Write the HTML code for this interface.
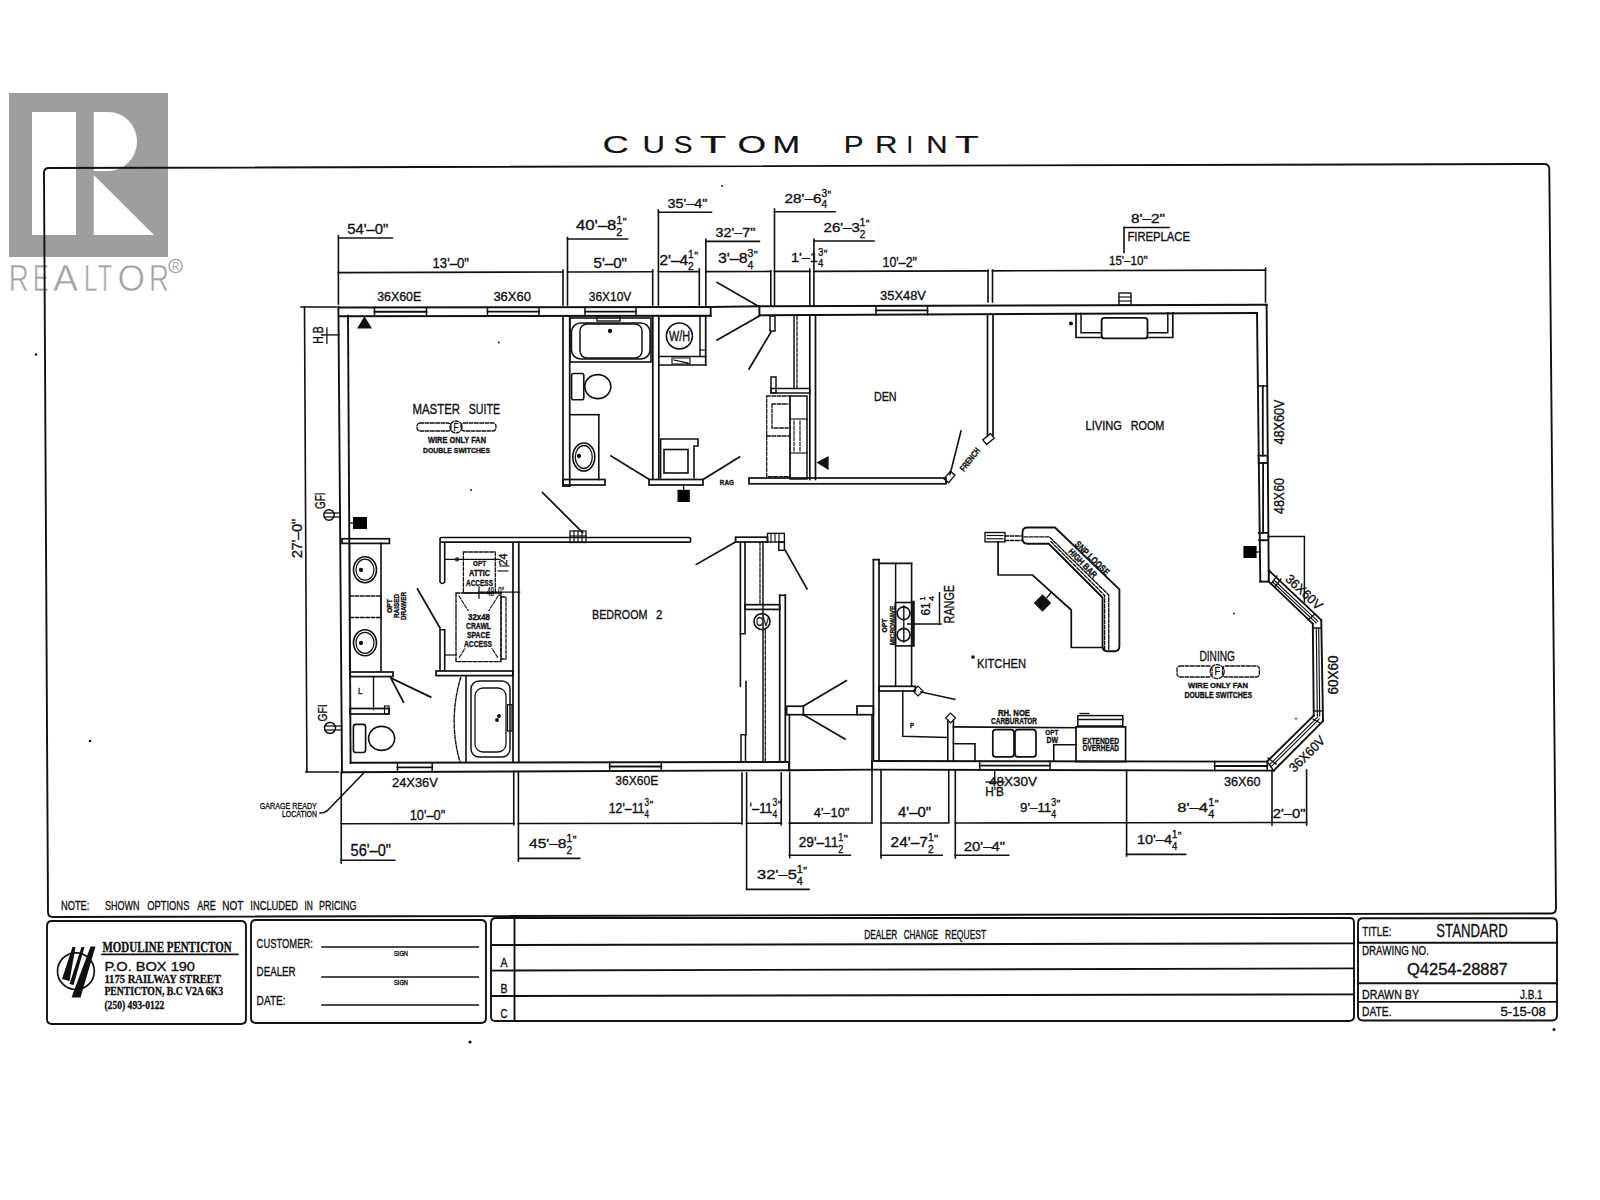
<!DOCTYPE html>
<html><head><meta charset="utf-8"><title>Custom Print Floor Plan</title>
<style>
html,body{margin:0;padding:0;background:#fff;}
body{width:1600px;height:1200px;overflow:hidden;}
svg{display:block;}
text{font-family:"Liberation Sans", sans-serif;fill:#111;stroke:#111;stroke-width:0.35px;}
</style></head><body>
<svg width="1600" height="1200" viewBox="0 0 1600 1200">
<rect x="0" y="0" width="1600" height="1200" fill="#fff"/>
<g stroke="none">
<rect x="9" y="93" width="159" height="164" fill="#9e9e9e" stroke="none"/>
<rect x="32" y="112" width="44" height="123" fill="#fff" stroke="none"/>
<path d="M93.75 112 H108.5 A28.5 29.5 0 0 1 108.5 171 H93.75 Z" fill="#fff"/>
<path d="M93.75 175 V235 H154 Z" fill="#fff"/>
</g>
<text x="8.75" y="291.25" font-size="36.34" textLength="20" lengthAdjust="spacingAndGlyphs" style="fill:#a2a2a2;stroke:#fff;stroke-width:0.6px;paint-order:normal">R</text>
<text x="33" y="291.25" font-size="36.34" textLength="15.75" lengthAdjust="spacingAndGlyphs" style="fill:#a2a2a2;stroke:#fff;stroke-width:0.6px;paint-order:normal">E</text>
<text x="53" y="291.25" font-size="36.34" textLength="25" lengthAdjust="spacingAndGlyphs" style="fill:#a2a2a2;stroke:#fff;stroke-width:0.6px;paint-order:normal">A</text>
<text x="84" y="291.25" font-size="36.34" textLength="13.5" lengthAdjust="spacingAndGlyphs" style="fill:#a2a2a2;stroke:#fff;stroke-width:0.6px;paint-order:normal">L</text>
<text x="98" y="291.25" font-size="36.34" textLength="14" lengthAdjust="spacingAndGlyphs" style="fill:#a2a2a2;stroke:#fff;stroke-width:0.6px;paint-order:normal">T</text>
<text x="117.5" y="291.25" font-size="36.34" textLength="27.5" lengthAdjust="spacingAndGlyphs" style="fill:#a2a2a2;stroke:#fff;stroke-width:0.6px;paint-order:normal">O</text>
<text x="149" y="291.25" font-size="36.34" textLength="20" lengthAdjust="spacingAndGlyphs" style="fill:#a2a2a2;stroke:#fff;stroke-width:0.6px;paint-order:normal">R</text>
<circle cx="175.6" cy="266" r="6.6" fill="none" stroke="#a4a4a4" stroke-width="1.4"/>
<text x="171.9" y="269.8" font-size="10" style="fill:#a4a4a4;stroke:none">R</text>
<g fill="none" stroke="#111" stroke-width="1.9" stroke-linecap="square">
<text transform="translate(602.5 152.5) scale(1.54 1)" x="-0" y="0" font-size="23.6" style="stroke:#111;stroke-width:0.2px">C</text>
<text transform="translate(642.5 152.5) scale(1.32 1)" x="-0" y="0" font-size="23.6" style="stroke:#111;stroke-width:0.2px">U</text>
<text transform="translate(673.75 152.5) scale(1.19 1)" x="-0" y="0" font-size="23.6" style="stroke:#111;stroke-width:0.2px">S</text>
<text transform="translate(700 152.5) scale(1.82 1)" x="-0" y="0" font-size="23.6" style="stroke:#111;stroke-width:0.2px">T</text>
<text transform="translate(737.5 152.5) scale(1.56 1)" x="-0" y="0" font-size="23.6" style="stroke:#111;stroke-width:0.2px">O</text>
<text transform="translate(772.5 152.5) scale(1.4 1)" x="-0" y="0" font-size="23.6" style="stroke:#111;stroke-width:0.2px">M</text>
<text transform="translate(843.75 152.5) scale(1.26 1)" x="-0" y="0" font-size="23.6" style="stroke:#111;stroke-width:0.2px">P</text>
<text transform="translate(875 152.5) scale(1.32 1)" x="-0" y="0" font-size="23.6" style="stroke:#111;stroke-width:0.2px">R</text>
<text transform="translate(906.5 152.5) scale(1 1)" x="-0" y="0" font-size="23.6" style="stroke:#111;stroke-width:0.2px">I</text>
<text transform="translate(926.25 152.5) scale(1.25 1)" x="-0" y="0" font-size="23.6" style="stroke:#111;stroke-width:0.2px">N</text>
<text transform="translate(955 152.5) scale(1.65 1)" x="-0" y="0" font-size="23.6" style="stroke:#111;stroke-width:0.2px">T</text>
<path d="M44 173 Q44 168 49 168 L1544 164 Q1549 164 1549.3 169 L1556 908 Q1556 913.5 1551 913.5 L53 917 Q48 917 48 912 Z"/>
<path d="M52 921 H241 Q246 921 246 926 V1019 Q246 1024 241 1024 H52 Q47 1024 47 1019 V926 Q47 921 52 921 Z"/>
<path d="M256 920 H481 Q486 920 486 925 V1018 Q486 1023 481 1023 H256 Q251 1023 251 1018 V925 Q251 920 256 920 Z"/>
<path d="M496 918 H1349 Q1354 917.5 1354 922.5 V1016 Q1354 1021 1349 1021 H496 Q491 1021.5 491 1016.5 V923 Q491 918 496 918 Z"/>
<path d="M491 945 L1354 943.4"/>
<path d="M491 970.6 L1354 968.4"/>
<path d="M491 996 L1354 994.4"/>
<path d="M514.5 918 L514.5 1021"/>
<path d="M1363 918.3 H1552 Q1557 918.3 1557 923.3 V1015.5 Q1557 1020.5 1552 1020.5 H1363 Q1358 1020.5 1358 1015.5 V923.3 Q1358 918.3 1363 918.3 Z"/>
<path d="M1358 942.7 L1557 942.7"/>
<path d="M1358 983.3 L1557 983.3"/>
<path d="M1358 1001.9 L1557 1001.9"/>
<text x="61" y="910" font-size="13.08" textLength="28.4" lengthAdjust="spacingAndGlyphs">NOTE:</text>
<text x="105" y="910" font-size="13.08" textLength="34.4" lengthAdjust="spacingAndGlyphs">SHOWN</text>
<text x="147.2" y="910" font-size="13.08" textLength="42.2" lengthAdjust="spacingAndGlyphs">OPTIONS</text>
<text x="197.2" y="910" font-size="13.08" textLength="18.7" lengthAdjust="spacingAndGlyphs">ARE</text>
<text x="222.2" y="910" font-size="13.08" textLength="21.2" lengthAdjust="spacingAndGlyphs">NOT</text>
<text x="250.3" y="910" font-size="13.08" textLength="47.8" lengthAdjust="spacingAndGlyphs">INCLUDED</text>
<text x="304.4" y="910" font-size="13.08" textLength="8.4" lengthAdjust="spacingAndGlyphs">IN</text>
<text x="319" y="910" font-size="13.08" textLength="37.6" lengthAdjust="spacingAndGlyphs">PRICING</text>
<circle cx="75.9" cy="971.2" r="18.4" stroke-width="1.72"/>
<path d="M72.5 947 L75.5 947 L69.5 981 L62 979 Z M81.5 947 L84.5 947 L73.5 985 L69.5 984 Z M90.5 946.5 L95.5 946.5 L80.5 997.5 L71.5 997.5 Z" fill="#111" stroke="none"/>
<text x="102.5" y="951.9" font-size="14.35" textLength="129.1" lengthAdjust="spacingAndGlyphs" font-weight="bold" style="font-family:'Liberation Serif', serif">MODULINE PENTICTON</text>
<path d="M102 954.4 L237.8 954.4" stroke-width="1.72"/>
<text x="104.4" y="970.6" font-size="12.65" textLength="90.6" lengthAdjust="spacingAndGlyphs">P.O. BOX 190</text>
<text x="104.4" y="982.5" font-size="13.36" textLength="116.6" lengthAdjust="spacingAndGlyphs" font-weight="bold" style="font-family:'Liberation Serif', serif">1175 RAILWAY STREET</text>
<text x="104.4" y="995" font-size="11.91" textLength="118.6" lengthAdjust="spacingAndGlyphs" font-weight="bold" style="font-family:'Liberation Serif', serif">PENTICTON, B.C  V2A 6K3</text>
<text x="104.4" y="1009" font-size="13.28" textLength="60" lengthAdjust="spacingAndGlyphs" font-weight="bold" style="font-family:'Liberation Serif', serif">(250) 493-0122</text>
<text x="256.6" y="948" font-size="13.44" textLength="56.2" lengthAdjust="spacingAndGlyphs">CUSTOMER:</text>
<path d="M322 947 L478.4 947" stroke-width="1.49"/>
<text x="256.6" y="976" font-size="13.23" textLength="39" lengthAdjust="spacingAndGlyphs">DEALER</text>
<path d="M322 976.9 L478.4 976.9" stroke-width="1.49"/>
<text x="256.6" y="1005" font-size="12.72" textLength="29" lengthAdjust="spacingAndGlyphs">DATE:</text>
<path d="M322 1005 L478.4 1005" stroke-width="1.49"/>
<text x="394" y="955.6" font-size="6.69" textLength="14" lengthAdjust="spacingAndGlyphs">SIGN</text>
<text x="394" y="984.6" font-size="6.69" textLength="14" lengthAdjust="spacingAndGlyphs">SIGN</text>
<text x="864.3" y="939.25" font-size="12.57" textLength="33" lengthAdjust="spacingAndGlyphs">DEALER</text>
<text x="903.7" y="939.25" font-size="12.57" textLength="34.5" lengthAdjust="spacingAndGlyphs">CHANGE</text>
<text x="945" y="939.25" font-size="12.57" textLength="41.25" lengthAdjust="spacingAndGlyphs">REQUEST</text>
<text x="500.5" y="967" font-size="11.99" textLength="7" lengthAdjust="spacingAndGlyphs">A</text>
<text x="500.5" y="992.5" font-size="12.35" textLength="7" lengthAdjust="spacingAndGlyphs">B</text>
<text x="500.5" y="1018" font-size="12.5" textLength="7" lengthAdjust="spacingAndGlyphs">C</text>
<text x="1362.2" y="936" font-size="13.08" textLength="29.3" lengthAdjust="spacingAndGlyphs">TITLE:</text>
<text x="1436.3" y="936.9" font-size="17.51" textLength="71.5" lengthAdjust="spacingAndGlyphs">STANDARD</text>
<text x="1362" y="954.75" font-size="12.72" textLength="66.9" lengthAdjust="spacingAndGlyphs">DRAWING NO.</text>
<text x="1407" y="974.9" font-size="16.06" textLength="100.8" lengthAdjust="spacingAndGlyphs">Q4254-28887</text>
<text x="1362" y="998.6" font-size="12.72" textLength="57" lengthAdjust="spacingAndGlyphs">DRAWN BY</text>
<text x="1519.9" y="998.6" font-size="12.72" textLength="22.7" lengthAdjust="spacingAndGlyphs">J.B.1</text>
<text x="1362" y="1015.85" font-size="13.23" textLength="29.5" lengthAdjust="spacingAndGlyphs">DATE.</text>
<text x="1500.4" y="1015.85" font-size="13.23" textLength="45.5" lengthAdjust="spacingAndGlyphs">5-15-08</text>
<g stroke="none" fill="#111">
<circle cx="36" cy="354.5" r="1.3"/>
<circle cx="90" cy="741" r="1.3"/>
<circle cx="470" cy="1042" r="1.6"/>
<circle cx="1554" cy="1029.5" r="1.5"/>
<circle cx="498.75" cy="342.5" r="0.9"/>
<circle cx="471" cy="490" r="0.9"/>
<circle cx="1234" cy="613.5" r="0.9"/>
<circle cx="1296" cy="718.6" r="0.9"/>
<circle cx="722" cy="186" r="1"/>
</g>
<path d="M338.4 307.5 L710.7 307"/>
<path d="M339 316.2 L710.7 315.8"/>
<path d="M710.7 307 L710.7 315.8"/>
<path d="M710.7 307 L759.4 306.2"/>
<path d="M759.4 306.2 L1266.6 304.7"/>
<path d="M759.4 315.2 L1257 313"/>
<path d="M759.4 306.2 L759.4 315.2"/>
<path d="M374.5 307.4 L374.5 316.1" stroke-width="1.49"/>
<path d="M426.5 307.4 L426.5 316.1" stroke-width="1.49"/>
<path d="M374.5 311.75 L426.5 311.75" stroke-width="1.84"/>
<path d="M487.5 307.3 L487.5 316" stroke-width="1.49"/>
<path d="M539 307.3 L539 316" stroke-width="1.49"/>
<path d="M487.5 311.65 L539 311.65" stroke-width="1.84"/>
<path d="M585 307.2 L585 315.9" stroke-width="1.49"/>
<path d="M636 307.2 L636 315.9" stroke-width="1.49"/>
<path d="M585 311.55 L636 311.55" stroke-width="1.84"/>
<path d="M876 305.8 L876 314.8" stroke-width="1.49"/>
<path d="M927.5 305.8 L927.5 314.8" stroke-width="1.49"/>
<path d="M876 310.3 L927.5 310.3" stroke-width="1.84"/>
<rect x="1119" y="293" width="12" height="12" stroke-width="1.38"/>
<path d="M1119 297 L1131 297" stroke-width="1.15"/>
<path d="M1119 301 L1131 301" stroke-width="1.15"/>
<path d="M338.4 307 L342 772.2"/>
<path d="M348 315.6 L350.6 762.8"/>
<path d="M342 772.2 L790 770.3"/>
<path d="M350.6 762.8 L789 762"/>
<path d="M789 762 L789 770.3"/>
<path d="M789 770.3 L872 769.6"/>
<path d="M872 761 L1267 761.6"/>
<path d="M872 769.6 L1273.75 770.6"/>
<path d="M872 761 L872 769.6"/>
<path d="M397.5 772 L397.5 762.7" stroke-width="1.49"/>
<path d="M432.2 772 L432.2 762.7" stroke-width="1.49"/>
<path d="M397.5 767.35 L432.2 767.35" stroke-width="1.84"/>
<path d="M609.7 770.8 L609.7 762.2" stroke-width="1.49"/>
<path d="M661.25 770.8 L661.25 762.2" stroke-width="1.49"/>
<path d="M609.7 766.5 L661.25 766.5" stroke-width="1.84"/>
<path d="M979.7 770 L979.7 761.2" stroke-width="1.49"/>
<path d="M1050 770 L1050 761.2" stroke-width="1.49"/>
<path d="M979.7 765.6 L1050 765.6" stroke-width="1.84"/>
<path d="M1214.7 770.5 L1214.7 761.5" stroke-width="1.49"/>
<path d="M1267.2 770.5 L1267.2 761.5" stroke-width="1.49"/>
<path d="M1214.7 766 L1267.2 766" stroke-width="1.84"/>
<path d="M1266.6 304.7 L1268.75 581.6"/>
<path d="M1257 313 L1260.3 581.6"/>
<path d="M1260.3 581.6 L1268.75 581.6"/>
<path d="M1267.3 386 L1258.3 386" stroke-width="1.49"/>
<path d="M1267.3 455.6 L1258.3 455.6" stroke-width="1.49"/>
<path d="M1262.8 386 L1262.8 455.6" stroke-width="1.84"/>
<rect x="1258.5" y="455.6" width="9" height="7.4" stroke-width="1.38"/>
<path d="M1267.6 463 L1258.6 463" stroke-width="1.49"/>
<path d="M1267.6 532.8 L1258.6 532.8" stroke-width="1.49"/>
<path d="M1263.1 463 L1263.1 532.8" stroke-width="1.84"/>
<path d="M1268 540.3 L1259 540.3" stroke-width="1.49"/>
<path d="M1268 540.3 L1259 540.3" stroke-width="1.49"/>
<path d="M1263.5 540.3 L1263.5 540.3" stroke-width="1.84"/>
<path d="M1259 532.8 L1268 532.8" stroke-width="1.38"/>
<path d="M1268.75 570.3 L1321.25 620"/>
<path d="M1268.75 581.6 L1312.8 623.75"/>
<path d="M1274.4 580.4 L1317.8 621.2" stroke-width="1.15"/>
<path d="M1272.8 582.2 L1316.2 623" stroke-width="1.15"/>
<path d="M1321.25 620 L1323 721"/>
<path d="M1312.8 623.75 L1313.75 715.6"/>
<path d="M1316.3 628 L1317.3 716" stroke-width="1.15"/>
<path d="M1318.7 628 L1319.7 716" stroke-width="1.15"/>
<path d="M1312.8 628 L1321.3 628" stroke-width="1.38"/>
<path d="M1313.7 711 L1322.8 711" stroke-width="1.38"/>
<path d="M1323 721 L1273.75 770.6"/>
<path d="M1313.75 715.6 L1267 761.6"/>
<path d="M1319.4 718.9 L1270.9 766.9" stroke-width="1.15"/>
<path d="M1317.6 717.1 L1269.1 765.1" stroke-width="1.15"/>
<path d="M1267.2 761.5 L1273.75 770.6" stroke-width="1.38"/>
<path d="M1268.75 570.3 L1268.75 581.6" stroke-width="1.38"/>
<path d="M1271 584 L1277 576" stroke-width="1.38"/>
<path d="M1275 587 L1281 579" stroke-width="1.38"/>
<path d="M1308 620 L1315 614" stroke-width="1.38"/>
<path d="M1313 719 L1320 723" stroke-width="1.26"/>
<path d="M1268 758 L1276 764" stroke-width="1.26"/>
<text transform="translate(1304 592) rotate(43)" x="-22.5" y="4.5" font-size="13.08" textLength="45" lengthAdjust="spacingAndGlyphs">36X60V</text>
<text transform="translate(1333 675) rotate(-90)" x="-19.5" y="4.75" font-size="13.81" textLength="39" lengthAdjust="spacingAndGlyphs">60X60</text>
<text transform="translate(1307 754) rotate(-45)" x="-22.5" y="4.5" font-size="13.08" textLength="45" lengthAdjust="spacingAndGlyphs">36X60V</text>
<path d="M1268 536.6 L1304.4 536.6" stroke-width="1.49"/>
<path d="M1304.4 536.6 L1304.4 602" stroke-width="1.49"/>
<text transform="translate(1279 422) rotate(-90)" x="-22.5" y="4.75" font-size="13.81" textLength="45" lengthAdjust="spacingAndGlyphs">48X60V</text>
<text transform="translate(1279 496) rotate(-90)" x="-18" y="4.75" font-size="13.81" textLength="36" lengthAdjust="spacingAndGlyphs">48X60</text>
<path d="M338.4 272.6 L563 271.99" stroke-width="1.61"/>
<path d="M567.5 271.98 L652.7 271.75" stroke-width="1.61"/>
<path d="M658.4 271.73 L699.3 271.62" stroke-width="1.61"/>
<path d="M705.8 271.61 L770.8 271.43" stroke-width="1.61"/>
<path d="M774.5 271.42 L809.8 271.33" stroke-width="1.61"/>
<path d="M813.9 271.32 L988 270.85" stroke-width="1.61"/>
<path d="M992.5 270.83 L1265.5 270.1" stroke-width="1.61"/>
<path d="M338.4 235.6 L338.4 304" stroke-width="1.61"/>
<path d="M563 270 L563 305" stroke-width="1.61"/>
<path d="M567.5 237.5 L567.5 305" stroke-width="1.61"/>
<path d="M652.7 270 L652.7 305" stroke-width="1.61"/>
<path d="M658.4 210 L658.4 305" stroke-width="1.61"/>
<path d="M699.3 269 L699.3 305" stroke-width="1.61"/>
<path d="M705.8 239.3 L705.8 305" stroke-width="1.61"/>
<path d="M770.8 271 L770.8 305" stroke-width="1.61"/>
<path d="M774.5 209 L774.5 305" stroke-width="1.61"/>
<path d="M809.8 269 L809.8 305" stroke-width="1.61"/>
<path d="M813.9 239.3 L813.9 305" stroke-width="1.61"/>
<path d="M988 270 L988 302" stroke-width="1.61"/>
<path d="M992.5 270 L992.5 302" stroke-width="1.61"/>
<path d="M1265.5 268 L1265.5 302" stroke-width="1.61"/>
<path d="M338.4 238 L392.2 238" stroke-width="1.61"/>
<path d="M567.5 239 L627.5 239" stroke-width="1.61"/>
<path d="M658.4 212.2 L711.5 212.2" stroke-width="1.61"/>
<path d="M705.8 241.4 L759.4 241.4" stroke-width="1.61"/>
<path d="M774.5 211.7 L835 211.7" stroke-width="1.61"/>
<path d="M813.9 241 L874 241" stroke-width="1.61"/>
<path d="M1124 227.5 L1169 227.5" stroke-width="1.61"/>
<path d="M1124 227.5 L1124 252.5" stroke-width="1.61"/>
<text x="347.2" y="233.75" font-size="15.04" textLength="41.2" lengthAdjust="spacingAndGlyphs">54'–0&quot;</text>
<text x="432.5" y="268" font-size="14.53" textLength="36.5" lengthAdjust="spacingAndGlyphs">13'–0&quot;</text>
<text x="593.5" y="268" font-size="14.53" textLength="33.5" lengthAdjust="spacingAndGlyphs">5'–0&quot;</text>
<text x="659.5" y="264.5" font-size="14.17" textLength="28.61" lengthAdjust="spacingAndGlyphs">2'–4</text>
<text x="688.11" y="258.36" font-size="11.05" textLength="5.67" lengthAdjust="spacingAndGlyphs">1</text>
<text x="688.11" y="270.35" font-size="11.05" textLength="5.67" lengthAdjust="spacingAndGlyphs">2</text>
<text x="694.2" y="260.45" font-size="11.05">&quot;</text>
<text x="718" y="262.9" font-size="14.39" textLength="29.56" lengthAdjust="spacingAndGlyphs">3'–8</text>
<text x="747.56" y="256.72" font-size="11.22" textLength="5.86" lengthAdjust="spacingAndGlyphs">3</text>
<text x="747.56" y="268.84" font-size="11.22" textLength="5.86" lengthAdjust="spacingAndGlyphs">4</text>
<text x="753.85" y="258.79" font-size="11.22">&quot;</text>
<text x="791" y="262" font-size="13.08" textLength="26.92" lengthAdjust="spacingAndGlyphs">1'–1</text>
<text x="817.92" y="256.02" font-size="10.2" textLength="5.34" lengthAdjust="spacingAndGlyphs">3</text>
<text x="817.92" y="267.4" font-size="10.2" textLength="5.34" lengthAdjust="spacingAndGlyphs">4</text>
<text x="823.65" y="258.26" font-size="10.2">&quot;</text>
<text x="882.5" y="267" font-size="13.81" textLength="34.5" lengthAdjust="spacingAndGlyphs">10'–2&quot;</text>
<text x="1109" y="265" font-size="13.08" textLength="38.5" lengthAdjust="spacingAndGlyphs">15'–10&quot;</text>
<text x="576" y="230" font-size="13.81" textLength="40.24" lengthAdjust="spacingAndGlyphs">40'–8</text>
<text x="616.24" y="223.91" font-size="10.77" textLength="6.14" lengthAdjust="spacingAndGlyphs">1</text>
<text x="616.24" y="235.7" font-size="10.77" textLength="6.14" lengthAdjust="spacingAndGlyphs">2</text>
<text x="622.8" y="226.06" font-size="10.77">&quot;</text>
<text x="667.6" y="207.6" font-size="12.94" textLength="39.8" lengthAdjust="spacingAndGlyphs">35'–4&quot;</text>
<text x="715.6" y="237.2" font-size="13.37" textLength="39.8" lengthAdjust="spacingAndGlyphs">32'–7&quot;</text>
<text x="784.6" y="202.75" font-size="13.01" textLength="36.81" lengthAdjust="spacingAndGlyphs">28'–6</text>
<text x="821.41" y="196.78" font-size="10.15" textLength="5.62" lengthAdjust="spacingAndGlyphs">3</text>
<text x="821.41" y="208.12" font-size="10.15" textLength="5.62" lengthAdjust="spacingAndGlyphs">4</text>
<text x="827.41" y="199.04" font-size="10.15">&quot;</text>
<text x="823.6" y="232.3" font-size="13.52" textLength="36.26" lengthAdjust="spacingAndGlyphs">26'–3</text>
<text x="859.86" y="226.25" font-size="10.54" textLength="5.53" lengthAdjust="spacingAndGlyphs">1</text>
<text x="859.86" y="237.88" font-size="10.54" textLength="5.53" lengthAdjust="spacingAndGlyphs">2</text>
<text x="865.8" y="228.44" font-size="10.54">&quot;</text>
<text x="1131" y="222.5" font-size="13.08" textLength="34" lengthAdjust="spacingAndGlyphs">8'–2&quot;</text>
<text x="1127.5" y="241" font-size="12.35" textLength="62.5" lengthAdjust="spacingAndGlyphs">FIREPLACE</text>
<text x="377.2" y="301.25" font-size="13.08" textLength="44.05" lengthAdjust="spacingAndGlyphs">36X60E</text>
<text x="493.4" y="301.25" font-size="13.08" textLength="37.6" lengthAdjust="spacingAndGlyphs">36X60</text>
<text x="588.75" y="301" font-size="13.08" textLength="42.5" lengthAdjust="spacingAndGlyphs">36X10V</text>
<text x="880" y="300" font-size="13.08" textLength="46" lengthAdjust="spacingAndGlyphs">35X48V</text>
<path d="M304.5 307 L306.9 772" stroke-width="1.61"/>
<path d="M301 307 L336 307" stroke-width="1.61"/>
<path d="M306 772 L338.4 772" stroke-width="1.61"/>
<text transform="translate(297.5 538.5) rotate(-90)" x="-19.5" y="4.75" font-size="13.81" textLength="39" lengthAdjust="spacingAndGlyphs">27'–0&quot;</text>
<text transform="translate(318 335) rotate(-90)" x="-8.75" y="4.75" font-size="13.81" textLength="17.5" lengthAdjust="spacingAndGlyphs">H.B</text>
<path d="M322 334.9 L339 334.9" stroke-width="1.38"/>
<path d="M326.9 328 L326.9 343.4" stroke-width="1.26"/>
<text transform="translate(320.5 500.7) rotate(-90)" x="-8.25" y="4.75" font-size="13.81" textLength="16.5" lengthAdjust="spacingAndGlyphs">GFI</text>
<circle cx="329" cy="515" r="5.2" stroke-width="1.49"/>
<path d="M324.5 513 L333.5 513" stroke-width="1.26"/>
<path d="M324.5 517 L333.5 517" stroke-width="1.26"/>
<path d="M334 513 L340 513" stroke-width="1.26"/>
<path d="M334 517 L340 517" stroke-width="1.26"/>
<text transform="translate(322.3 713) rotate(-90)" x="-8.5" y="4.5" font-size="13.08" textLength="17" lengthAdjust="spacingAndGlyphs">GFI</text>
<circle cx="330" cy="728" r="5.5" stroke-width="1.49"/>
<path d="M325 726 L335 726" stroke-width="1.26"/>
<path d="M325 730 L335 730" stroke-width="1.26"/>
<path d="M335.5 726 L342 726" stroke-width="1.26"/>
<path d="M335.5 730 L342 730" stroke-width="1.26"/>
<path d="M341 823.75 L513.75 823.53" stroke-width="1.61"/>
<path d="M518.4 823.52 L742 823.23" stroke-width="1.61"/>
<path d="M746.6 823.22 L781.25 823.18" stroke-width="1.61"/>
<path d="M789.4 823.17 L872 823.06" stroke-width="1.61"/>
<path d="M881 823.05 L948.75 822.96" stroke-width="1.61"/>
<path d="M955.3 822.95 L1126.6 822.73" stroke-width="1.61"/>
<path d="M1126.6 822.73 L1272 822.54" stroke-width="1.61"/>
<path d="M1272 822.54 L1306.6 822.49" stroke-width="1.61"/>
<path d="M341.25 772 L341.25 863" stroke-width="1.61"/>
<path d="M513.75 772 L513.75 824.7" stroke-width="1.61"/>
<path d="M518.4 772 L518.4 861" stroke-width="1.61"/>
<path d="M742 773 L742 824" stroke-width="1.61"/>
<path d="M746.6 773 L746.6 889.4" stroke-width="1.61"/>
<path d="M781.25 773 L781.25 824.7" stroke-width="1.61"/>
<path d="M789.7 773 L789.7 857.5" stroke-width="1.61"/>
<path d="M872 770 L872 822" stroke-width="1.61"/>
<path d="M881 770 L881 858" stroke-width="1.61"/>
<path d="M948.75 770 L948.75 822" stroke-width="1.61"/>
<path d="M955.3 770 L955.3 858" stroke-width="1.61"/>
<path d="M1126.6 770 L1126.6 856" stroke-width="1.61"/>
<path d="M1272 770 L1272 825" stroke-width="1.61"/>
<path d="M1306.6 770 L1306.6 825" stroke-width="1.61"/>
<path d="M341 860.3 L394.7 860.3" stroke-width="1.61"/>
<path d="M518.75 858.4 L579.7 858.4" stroke-width="1.61"/>
<path d="M746.6 889.4 L809 889.4" stroke-width="1.61"/>
<path d="M789.4 855.3 L850.3 855.3" stroke-width="1.61"/>
<path d="M881 855.3 L942.2 855.3" stroke-width="1.61"/>
<path d="M955 855.3 L1008.75 855.3" stroke-width="1.61"/>
<path d="M1126.6 854.4 L1185.6 854.4" stroke-width="1.61"/>
<text x="392" y="787.2" font-size="13.66" textLength="45.8" lengthAdjust="spacingAndGlyphs">24X36V</text>
<text x="615.3" y="785.3" font-size="13.52" textLength="43.1" lengthAdjust="spacingAndGlyphs">36X60E</text>
<text x="989" y="786" font-size="13.66" textLength="48" lengthAdjust="spacingAndGlyphs">48X30V</text>
<text x="985.3" y="796.25" font-size="12.28" textLength="18.7" lengthAdjust="spacingAndGlyphs">H'B</text>
<path d="M994.7 770 L994.7 782" stroke-width="1.38"/>
<path d="M986 782 L1004 782" stroke-width="1.38"/>
<text x="1224" y="786" font-size="13.66" textLength="36.6" lengthAdjust="spacingAndGlyphs">36X60</text>
<text x="409.7" y="820" font-size="14.97" textLength="35.6" lengthAdjust="spacingAndGlyphs">10'–0&quot;</text>
<text x="608.75" y="812.5" font-size="13.81" textLength="35.72" lengthAdjust="spacingAndGlyphs">12'–11</text>
<text x="644.47" y="806.41" font-size="10.77" textLength="4.55" lengthAdjust="spacingAndGlyphs">3</text>
<text x="644.47" y="818.2" font-size="10.77" textLength="4.55" lengthAdjust="spacingAndGlyphs">4</text>
<text x="649.43" y="808.56" font-size="10.77">&quot;</text>
<text x="749.5" y="812.5" font-size="13.81" textLength="23.03" lengthAdjust="spacingAndGlyphs">'–11</text>
<text x="772.53" y="806.41" font-size="10.77" textLength="4.76" lengthAdjust="spacingAndGlyphs">3</text>
<text x="772.53" y="818.2" font-size="10.77" textLength="4.76" lengthAdjust="spacingAndGlyphs">4</text>
<text x="777.7" y="808.56" font-size="10.77">&quot;</text>
<text x="813.75" y="816.9" font-size="13.66" textLength="35.65" lengthAdjust="spacingAndGlyphs">4'–10&quot;</text>
<text x="898" y="817" font-size="13.81" textLength="33" lengthAdjust="spacingAndGlyphs">4'–0&quot;</text>
<text x="1020" y="812.2" font-size="13.66" textLength="31.27" lengthAdjust="spacingAndGlyphs">9'–11</text>
<text x="1051.27" y="806.13" font-size="10.66" textLength="4.93" lengthAdjust="spacingAndGlyphs">3</text>
<text x="1051.27" y="817.84" font-size="10.66" textLength="4.93" lengthAdjust="spacingAndGlyphs">4</text>
<text x="1056.61" y="808.3" font-size="10.66">&quot;</text>
<text x="1177.2" y="812.2" font-size="13.66" textLength="30.95" lengthAdjust="spacingAndGlyphs">8'–4</text>
<text x="1208.15" y="806.13" font-size="10.66" textLength="6.14" lengthAdjust="spacingAndGlyphs">1</text>
<text x="1208.15" y="817.84" font-size="10.66" textLength="6.14" lengthAdjust="spacingAndGlyphs">4</text>
<text x="1214.7" y="808.3" font-size="10.66">&quot;</text>
<text x="1272.8" y="817.8" font-size="12.21" textLength="32.8" lengthAdjust="spacingAndGlyphs">2'–0&quot;</text>
<text x="350.6" y="855.6" font-size="16.28" textLength="40.4" lengthAdjust="spacingAndGlyphs">56'–0&quot;</text>
<text x="529" y="848" font-size="13.44" textLength="37.51" lengthAdjust="spacingAndGlyphs">45'–8</text>
<text x="566.51" y="841.97" font-size="10.49" textLength="5.73" lengthAdjust="spacingAndGlyphs">1</text>
<text x="566.51" y="853.55" font-size="10.49" textLength="5.73" lengthAdjust="spacingAndGlyphs">2</text>
<text x="572.64" y="844.16" font-size="10.49">&quot;</text>
<text x="798.75" y="847" font-size="15.12" textLength="39.53" lengthAdjust="spacingAndGlyphs">29'–11</text>
<text x="838.28" y="840.71" font-size="11.79" textLength="5.03" lengthAdjust="spacingAndGlyphs">1</text>
<text x="838.28" y="853.24" font-size="11.79" textLength="5.03" lengthAdjust="spacingAndGlyphs">2</text>
<text x="843.77" y="842.68" font-size="11.79">&quot;</text>
<text x="890.6" y="847" font-size="15.12" textLength="37.35" lengthAdjust="spacingAndGlyphs">24'–7</text>
<text x="927.95" y="840.71" font-size="11.79" textLength="5.7" lengthAdjust="spacingAndGlyphs">1</text>
<text x="927.95" y="853.24" font-size="11.79" textLength="5.7" lengthAdjust="spacingAndGlyphs">2</text>
<text x="934.11" y="842.68" font-size="11.79">&quot;</text>
<text x="963.75" y="850.6" font-size="13.59" textLength="41.25" lengthAdjust="spacingAndGlyphs">20'–4&quot;</text>
<text x="1136.9" y="844" font-size="13.52" textLength="35.16" lengthAdjust="spacingAndGlyphs">10'–4</text>
<text x="1172.06" y="837.95" font-size="10.54" textLength="5.37" lengthAdjust="spacingAndGlyphs">1</text>
<text x="1172.06" y="849.58" font-size="10.54" textLength="5.37" lengthAdjust="spacingAndGlyphs">4</text>
<text x="1177.84" y="840.14" font-size="10.54">&quot;</text>
<text x="757" y="879" font-size="13.52" textLength="39.85" lengthAdjust="spacingAndGlyphs">32'–5</text>
<text x="796.85" y="872.95" font-size="10.54" textLength="6.08" lengthAdjust="spacingAndGlyphs">1</text>
<text x="796.85" y="884.58" font-size="10.54" textLength="6.08" lengthAdjust="spacingAndGlyphs">4</text>
<text x="803.34" y="875.14" font-size="10.54">&quot;</text>
<text x="259.7" y="808.75" font-size="9.81" textLength="57.2" lengthAdjust="spacingAndGlyphs">GARAGE READY</text>
<text x="282" y="817.2" font-size="9.59" textLength="35" lengthAdjust="spacingAndGlyphs">LOCATION</text>
<path d="M364.7 772 L328 810 Q325 813 320 813" stroke-width="1.61"/>
<path d="M357 328.4 L372 328.4 L364.5 316.3 Z" fill="#111" stroke="none"/>
<text x="412.5" y="414" font-size="14.53" textLength="47.5" lengthAdjust="spacingAndGlyphs">MASTER</text>
<text x="468.75" y="414" font-size="14.53" textLength="31.25" lengthAdjust="spacingAndGlyphs">SUITE</text>
<rect x="417" y="423" width="34" height="8" rx="3" stroke-width="1.26" stroke-dasharray="3.5 1.8"/>
<rect x="461" y="423" width="35" height="8" rx="3" stroke-width="1.26" stroke-dasharray="3.5 1.8"/>
<circle cx="456" cy="427" r="6" stroke-width="1.26" stroke-dasharray="3.5 1.8"/>
<text x="453.5" y="430.5" font-size="10.17" textLength="5" lengthAdjust="spacingAndGlyphs">F</text>
<text x="428" y="443" font-size="8.72" textLength="58" lengthAdjust="spacingAndGlyphs" font-weight="bold">WIRE ONLY FAN</text>
<text x="423" y="452.5" font-size="7.99" textLength="67" lengthAdjust="spacingAndGlyphs" font-weight="bold">DOUBLE SWITCHES</text>
<rect x="353" y="517" width="14" height="12" fill="#000" stroke="none"/>
<path d="M350 523 L353 523" stroke-width="1.38"/>
<path d="M542.5 492.5 L582.5 532.5" stroke-width="1.72"/>
<path d="M563 316 L563 486" stroke-width="1.72"/>
<path d="M569.7 316 L569.7 486" stroke-width="1.72"/>
<path d="M563 486 L569.7 486" stroke-width="1.72"/>
<rect x="570" y="318" width="81" height="44" stroke-width="1.61"/>
<rect x="571.5" y="323" width="78.5" height="36" rx="9" stroke-width="1.49"/>
<rect x="580" y="324" width="62" height="34" rx="7" stroke-width="1.49"/>
<rect x="597" y="316" width="23" height="5" stroke-width="1.38"/>
<circle cx="610" cy="331" r="1.2" fill="#111"/>
<path d="M652.8 316 L652.8 478.5" stroke-width="1.72"/>
<path d="M658.8 316 L658.8 478.5" stroke-width="1.72"/>
<rect x="571.6" y="373.5" width="12.2" height="26.2" rx="2" stroke-width="1.61"/>
<ellipse cx="597.8" cy="386.6" rx="13" ry="12" stroke-width="1.61"/>
<path d="M570 414.7 L598.8 414.7" stroke-width="1.61"/>
<path d="M598.8 414.7 L598.8 479.5" stroke-width="1.61"/>
<ellipse cx="583.8" cy="457" rx="11" ry="14" stroke-width="1.61"/>
<ellipse cx="583.8" cy="457" rx="8.5" ry="11.5" stroke-width="1.26"/>
<circle cx="579" cy="456" r="1.2" fill="#111"/>
<rect x="563" y="479.5" width="42" height="5.5" stroke-width="1.72"/>
<path d="M611 456 L649.4 479.5" stroke-width="1.72"/>
<rect x="649" y="479.5" width="54" height="5.5" stroke-width="1.72"/>
<path d="M703 479.5 L739.5 457" stroke-width="1.72"/>
<path d="M659 316 L705.7 316" stroke-width="1.38"/>
<path d="M705.7 316 L705.7 365" stroke-width="1.72"/>
<path d="M700 316 L700 356.6" stroke-width="1.49"/>
<path d="M658.8 356.6 L705.7 356.6" stroke-width="1.49"/>
<path d="M658.8 365 L705.7 365" stroke-width="1.72"/>
<path d="M672 358 L690 358 L690 364 L672 364 Z M674 360 L688 363" stroke-width="1.15"/>
<path d="M700 350 L705.7 350" stroke-width="1.15"/>
<circle cx="679.4" cy="336" r="13" stroke-width="1.61"/>
<text x="669" y="341" font-size="14.53" textLength="21" lengthAdjust="spacingAndGlyphs">W/H</text>
<path d="M660.6 477.6 V439 H698 V446 H694 V477.6" stroke-width="1.61"/>
<rect x="664" y="449.5" width="24" height="23.5" stroke-width="1.61"/>
<rect x="677.5" y="489.8" width="12.3" height="12.2" fill="#000" stroke="none"/>
<path d="M683.6 485 L683.6 490" stroke-width="1.38"/>
<text x="719.8" y="485" font-size="7.27" textLength="14.1" lengthAdjust="spacingAndGlyphs" font-weight="bold">RAG</text>
<path d="M717.2 282.4 L759.4 306.75" stroke-width="1.72"/>
<path d="M759.4 316 L717 340" stroke-width="1.72"/>
<path d="M771 332 L749 369" stroke-width="1.72"/>
<rect x="770" y="316" width="5" height="15" stroke-width="1.49"/>
<path d="M809.8 316 L809.8 479.5" stroke-width="1.72"/>
<path d="M815.5 315.5 L815.5 479.5" stroke-width="1.72"/>
<path d="M794 316 L794 388.5" stroke-width="1.49"/>
<path d="M797 316 L797 388.5" stroke-width="1.26" stroke-dasharray="3.5 1.8"/>
<rect x="771" y="388.5" width="38.8" height="4.5" stroke-width="1.49"/>
<rect x="771" y="377" width="5" height="16" stroke-width="1.49"/>
<rect x="766.7" y="396" width="23.3" height="80.7" stroke-width="1.26" stroke-dasharray="3.5 1.8"/>
<path d="M766.7 436 L790 436" stroke-width="1.26" stroke-dasharray="3.5 1.8"/>
<path d="M772 404 H788 M772 404 V428 H788" stroke-width="1.26" stroke-dasharray="3.5 1.8"/>
<rect x="790" y="396" width="17" height="83" stroke-width="1.49"/>
<path d="M790 419 L807 419" stroke-width="1.15"/>
<path d="M790 453 L807 453" stroke-width="1.15"/>
<path d="M794 421 L794 451" stroke-width="1.15" stroke-dasharray="3.5 1.8"/>
<path d="M800 421 L800 451" stroke-width="1.15" stroke-dasharray="3.5 1.8"/>
<path d="M816.4 462.6 L828.6 456 L828.6 470 Z" fill="#111" stroke="none"/>
<rect x="749" y="478" width="197" height="5.8" stroke-width="1.72"/>
<path d="M987.5 315 L987.5 436" stroke-width="1.72"/>
<path d="M993 314.8 L993 436" stroke-width="1.72"/>
<rect x="-5" y="-3" width="10" height="6" transform="translate(988.5 439) rotate(-40)" stroke-width="1.3"/>
<rect x="-5" y="-3" width="10" height="6" transform="translate(949.5 477) rotate(-50)" stroke-width="1.3"/>
<path d="M950 474.4 L961 431" stroke-width="1.61"/>
<text transform="translate(970 459.4) rotate(-52)" x="-13.5" y="3" font-size="8.72" textLength="27" lengthAdjust="spacingAndGlyphs" font-weight="bold">FRENCH</text>
<text x="874" y="401.3" font-size="12.35" textLength="22.6" lengthAdjust="spacingAndGlyphs">DEN</text>
<path d="M1076 313.5 V337.5 H1101.6 M1147.5 337.5 H1172.8 V312.8" stroke-width="1.72"/>
<path d="M1081 313.5 V332.8 H1101.6 M1147.5 332.8 H1167.8 V312.8" stroke-width="1.49"/>
<rect x="1101.6" y="317.8" width="45.9" height="20.6" rx="3" stroke-width="1.84"/>
<text x="1085.6" y="430.3" font-size="12.06" textLength="36.4" lengthAdjust="spacingAndGlyphs">LIVING</text>
<text x="1130.7" y="430.3" font-size="12.06" textLength="33.7" lengthAdjust="spacingAndGlyphs">ROOM</text>
<circle cx="1071" cy="323.5" r="1.1" fill="#111"/>
<rect x="440" y="537.5" width="250.6" height="4.7" rx="1.5" stroke-width="1.72"/>
<rect x="570" y="531" width="16" height="11.5" stroke-width="1.26"/>
<path d="M574 531 L574 542.5" stroke-width="1.15"/>
<path d="M578 531 L578 542.5" stroke-width="1.15"/>
<path d="M582 531 L582 542.5" stroke-width="1.15"/>
<path d="M570 536 L586 536" stroke-width="1.15"/>
<rect x="342" y="538.75" width="47.4" height="4.65" stroke-width="1.72"/>
<path d="M349.6 543.4 L349.6 671" stroke-width="1.38"/>
<path d="M381 543.4 L381 671" stroke-width="1.61"/>
<ellipse cx="365" cy="569.7" rx="11.5" ry="13" stroke-width="1.61"/>
<ellipse cx="365" cy="569.7" rx="9" ry="10.5" stroke-width="1.26"/>
<ellipse cx="365" cy="642.8" rx="11.5" ry="13" stroke-width="1.61"/>
<ellipse cx="365" cy="642.8" rx="9" ry="10.5" stroke-width="1.26"/>
<circle cx="361" cy="570" r="1.2" fill="#111"/>
<circle cx="361" cy="643" r="1.2" fill="#111"/>
<path d="M350 596 L381 596" stroke-width="1.26" stroke-dasharray="3.5 1.8"/>
<path d="M350 617.5 L381 617.5" stroke-width="1.26" stroke-dasharray="3.5 1.8"/>
<path d="M381 596 L381 617.5" stroke-width="1.26" stroke-dasharray="3.5 1.8"/>
<text transform="translate(389 606) rotate(-90)" x="-7" y="2.5" font-size="7" font-weight="bold" textLength="14" lengthAdjust="spacingAndGlyphs">OPT</text>
<text transform="translate(396 606) rotate(-90)" x="-12" y="2.5" font-size="7" font-weight="bold" textLength="24" lengthAdjust="spacingAndGlyphs">RAISED</text>
<text transform="translate(403 606) rotate(-90)" x="-14" y="2.5" font-size="7" font-weight="bold" textLength="28" lengthAdjust="spacingAndGlyphs">DRAWER</text>
<rect x="350" y="672" width="43" height="4.6" stroke-width="1.72"/>
<path d="M391 678.4 L403.4 702" stroke-width="1.72"/>
<path d="M391 678 L430.6 697" stroke-width="1.72"/>
<text x="358" y="694" font-size="8.72" textLength="4.5" lengthAdjust="spacingAndGlyphs">L</text>
<path d="M373.5 677 L373.5 709.5" stroke-width="1.38"/>
<rect x="350" y="708.5" width="39" height="5.5" stroke-width="1.72"/>
<rect x="384.5" y="706" width="4.5" height="8" stroke-width="1.15"/>
<rect x="353.4" y="724.4" width="12.2" height="28.1" rx="2.5" stroke-width="1.61"/>
<ellipse cx="381.6" cy="738.4" rx="13" ry="12" stroke-width="1.61"/>
<path d="M444.7 543 V582 Q442.3 585 440 582 V543" stroke-width="1.61"/>
<path d="M445 559.4 L500 559.4" stroke-width="1.38"/>
<circle cx="457" cy="559.4" r="1.5" stroke-width="1.15"/>
<rect x="463.4" y="552" width="31.9" height="41" stroke-width="1.26" stroke-dasharray="3.5 1.8"/>
<g font-weight="bold">
<text x="473" y="566" font-size="7.27" textLength="13" lengthAdjust="spacingAndGlyphs">OPT</text>
<text x="469" y="576" font-size="8.72" textLength="21" lengthAdjust="spacingAndGlyphs">ATTIC</text>
<text x="466" y="586" font-size="8.72" textLength="27" lengthAdjust="spacingAndGlyphs">ACCESS</text>
</g>
<text transform="translate(502.7 559.5) rotate(-90)" x="-6" y="4" font-size="11.63" textLength="12" lengthAdjust="spacingAndGlyphs">24</text>
<path d="M500 566 L509 566" stroke-width="1.15"/>
<path d="M498 571 L508 571" stroke-width="1.15"/>
<path d="M478.4 592.2 L519.7 592.2" stroke-width="1.26"/>
<path d="M479 587 L479 598" stroke-width="1.26"/>
<text x="487" y="596" font-size="13.08" textLength="17" lengthAdjust="spacingAndGlyphs">48 -0&quot;</text>
<rect x="456" y="593" width="45" height="68.6" stroke-width="1.38" stroke-dasharray="3.5 1.8"/>
<path d="M459 596 L498 658" stroke-width="1.15" stroke-dasharray="3.5 1.8"/>
<path d="M498 596 L459 658" stroke-width="1.15" stroke-dasharray="3.5 1.8"/>
<rect x="463" y="611" width="31" height="37" fill="#fff" stroke="none"/>
<g font-weight="bold">
<text x="468" y="620" font-size="8.72" textLength="22" lengthAdjust="spacingAndGlyphs">32x48</text>
<text x="466" y="629" font-size="8.72" textLength="25" lengthAdjust="spacingAndGlyphs">CRAWL</text>
<text x="467" y="638" font-size="8.72" textLength="23" lengthAdjust="spacingAndGlyphs">SPACE</text>
<text x="464" y="646.5" font-size="8.72" textLength="28" lengthAdjust="spacingAndGlyphs">ACCESS</text>
</g>
<rect x="501" y="597" width="5" height="62" stroke-width="1.26" stroke-dasharray="3.5 1.8"/>
<path d="M513 543 L513 762" stroke-width="1.72"/>
<path d="M518.8 542.2 L518.8 762" stroke-width="1.72"/>
<path d="M440 670 V629.7 H444.7 V670" stroke-width="1.61"/>
<path d="M417.5 589 L440 628" stroke-width="1.72"/>
<rect x="436" y="671" width="77" height="4.6" stroke-width="1.72"/>
<path d="M444.7 655 L456 655" stroke-width="1.26"/>
<path d="M466 676 L466 762" stroke-width="1.61"/>
<rect x="471" y="681" width="39" height="76" rx="8" stroke-width="1.49"/>
<rect x="475" y="688" width="31" height="64" rx="8" stroke-width="1.26"/>
<rect x="507.5" y="704.7" width="4.5" height="26.3" stroke-width="1.26"/>
<circle cx="499" cy="716" r="1" fill="#111"/>
<circle cx="497" cy="720" r="1" fill="#111"/>
<path d="M460.7 677.5 Q448 720 460 762" stroke-width="1.38" stroke-dasharray="3.5 1.8"/>
<text x="592" y="618.8" font-size="13.66" textLength="55.5" lengthAdjust="spacingAndGlyphs">BEDROOM</text>
<text x="656" y="618.8" font-size="13.66" textLength="6.5" lengthAdjust="spacingAndGlyphs">2</text>
<path d="M696.3 564.4 L735.6 541.9" stroke-width="1.72"/>
<rect x="735.6" y="537.2" width="31.9" height="4.8" stroke-width="1.72"/>
<rect x="767.5" y="533.4" width="16.9" height="8.6" stroke-width="1.38"/>
<path d="M771 533.4 L771 542" stroke-width="1.15"/>
<path d="M775 533.4 L775 542" stroke-width="1.15"/>
<path d="M779 533.4 L779 542" stroke-width="1.15"/>
<rect x="778.8" y="542" width="5.6" height="8.3" stroke-width="1.49"/>
<path d="M785.3 550.3 L807 588.8" stroke-width="1.72"/>
<path d="M740.4 542 V633.8 H745 V542" stroke-width="1.61"/>
<path d="M740.4 633.8 L740.4 686.3" stroke-width="1.61"/>
<path d="M746 681.6 L746 735" stroke-width="1.61"/>
<rect x="741" y="734.7" width="4.5" height="27.3" stroke-width="1.49"/>
<path d="M760 542 L760 603.8" stroke-width="1.26" stroke-dasharray="3.5 1.8"/>
<path d="M763 542 L763 762" stroke-width="1.49"/>
<path d="M765.3 630 L765.3 762" stroke-width="1.26" stroke-dasharray="3.5 1.8"/>
<rect x="745" y="604.7" width="34.7" height="4.7" stroke-width="1.72"/>
<circle cx="762" cy="621.6" r="8" stroke-width="1.61"/>
<text x="756" y="626" font-size="13.08" textLength="13" lengthAdjust="spacingAndGlyphs">CV</text>
<path d="M779.7 595.3 L779.7 762" stroke-width="1.72"/>
<path d="M785.3 595.3 L785.3 762" stroke-width="1.72"/>
<path d="M779.7 595.3 L785.3 595.3" stroke-width="1.72"/>
<path d="M873.4 559.7 L873.4 761" stroke-width="1.72"/>
<path d="M879 559.7 L879 761" stroke-width="1.72"/>
<path d="M873.4 559.7 L879 559.7" stroke-width="1.72"/>
<rect x="786.6" y="706.25" width="16.8" height="8.45" stroke-width="1.72"/>
<rect x="857" y="706" width="16.4" height="8.7" stroke-width="1.72"/>
<path d="M803.4 714.7 L857 714.7" stroke-width="1.61"/>
<path d="M803.4 706 L846.3 680.6" stroke-width="1.72"/>
<path d="M803.4 714.7 L845 739" stroke-width="1.72"/>
<path d="M789.4 714.7 L789.4 770" stroke-width="1.61"/>
<path d="M872 714.7 L872 770" stroke-width="1.61"/>
<path d="M878.75 563.4 L911.6 563.4" stroke-width="1.61"/>
<path d="M911.6 563.4 L911.6 686.3" stroke-width="1.61"/>
<path d="M895.6 563.4 L895.6 686.3" stroke-width="1.49"/>
<rect x="895.4" y="602.5" width="16.6" height="43.4" stroke-width="1.61"/>
<circle cx="903.6" cy="613.25" r="6.4" stroke-width="1.61"/>
<circle cx="903.6" cy="634.8" r="6.4" stroke-width="1.61"/>
<path d="M903.8 606 L903.8 642" stroke-width="1.38"/>
<path d="M913.5 602 L913.5 645.5" stroke-width="2.53"/>
<text transform="translate(884 625.5) rotate(-90)" x="-7" y="2.65" font-size="7.7" textLength="14" lengthAdjust="spacingAndGlyphs" font-weight="bold">OPT</text>
<text transform="translate(892.3 625.5) rotate(-90)" x="-19.8" y="2.75" font-size="7.99" textLength="39.6" lengthAdjust="spacingAndGlyphs" font-weight="bold">MICROWAVE</text>
<text transform="translate(925.5 609) rotate(-90)" x="-6.5" y="4.25" font-size="12.35" textLength="13" lengthAdjust="spacingAndGlyphs">61</text>
<text transform="translate(922.5 598.5) rotate(-90)" x="-2" y="2.5" font-size="7.27" textLength="4" lengthAdjust="spacingAndGlyphs">1</text>
<text transform="translate(931 598.5) rotate(-90)" x="-2.5" y="2.75" font-size="7.99" textLength="5" lengthAdjust="spacingAndGlyphs">4</text>
<path d="M939.5 592.8 L939.5 624" stroke-width="1.49"/>
<path d="M907.7 624 L941 624" stroke-width="1.49"/>
<text transform="translate(948.5 604.2) rotate(-90)" x="-19.2" y="5.15" font-size="14.97" textLength="38.4" lengthAdjust="spacingAndGlyphs">RANGE</text>
<rect x="879" y="686.3" width="36.3" height="4.7" stroke-width="1.72"/>
<rect x="-3.5" y="-3.5" width="7" height="7" transform="translate(918 691) rotate(45)" stroke-width="1.2"/>
<path d="M921 692 L954.7 699.4" stroke-width="1.61"/>
<path d="M902.8 691 V736.25 L947 737.5" stroke-width="1.49"/>
<text x="910" y="728" font-size="7.27" textLength="4" lengthAdjust="spacingAndGlyphs" font-weight="bold">P</text>
<path d="M947.8 720.3 L947.8 761" stroke-width="1.61"/>
<path d="M953.4 720.3 L953.4 761" stroke-width="1.61"/>
<rect x="-3.5" y="-3.5" width="7" height="7" transform="translate(950.6 718) rotate(45)" stroke-width="1.2"/>
<path d="M953.4 726.9 L1076 727.8" stroke-width="1.61"/>
<rect x="992.8" y="729.7" width="21.2" height="27.2" rx="3" stroke-width="1.72"/>
<rect x="1015" y="729.7" width="21" height="27.2" rx="3" stroke-width="1.72"/>
<path d="M953.4 743.75 H975 V761" stroke-width="1.61"/>
<path d="M1076 744.7 H1053.75 V761" stroke-width="1.61"/>
<g font-weight="bold">
<text x="1045.3" y="735" font-size="7.7" textLength="13.1" lengthAdjust="spacingAndGlyphs">OPT</text>
<text x="1046.5" y="742.8" font-size="8.43" textLength="11.5" lengthAdjust="spacingAndGlyphs">DW</text>
<text x="998" y="715.5" font-size="8.43" textLength="32" lengthAdjust="spacingAndGlyphs">RH. NOE</text>
<text x="991" y="723.75" font-size="9.08" textLength="46" lengthAdjust="spacingAndGlyphs">CARBURATOR</text>
</g>
<rect x="1076" y="726.9" width="49.6" height="34.7" stroke-width="1.72"/>
<g font-weight="bold">
<text x="1082.5" y="743.5" font-size="9.16" textLength="36.5" lengthAdjust="spacingAndGlyphs">EXTENDED</text>
<text x="1082.5" y="751.25" font-size="9.08" textLength="36.5" lengthAdjust="spacingAndGlyphs">OVERHEAD</text>
</g>
<rect x="1077.8" y="715.6" width="45" height="10.4" stroke-width="1.49"/>
<path d="M1077.8 719.5 L1122.8 719.5" stroke-width="1.26"/>
<path d="M1080 713.5 L1089 713.5" stroke-width="1.26"/>
<rect x="985" y="532.5" width="20" height="9.4" stroke-width="1.38"/>
<path d="M987 535.5 L1003 535.5" stroke-width="1.15"/>
<path d="M987 538.8 L1003 538.8" stroke-width="1.15"/>
<path d="M1005 536 H1022 M1005 540.5 H1022" stroke-width="1.26" stroke-dasharray="3.5 1.8"/>
<path d="M1027.5 543.75 Q1022.5 543.75 1022.5 538.75 V532.5 Q1022.5 527.5 1027.5 527.5 H1055 L1119.4 589.4 V646.25 Q1119.4 651.25 1114.4 651.25 H1107.5 Q1102.5 651.25 1102.5 646.25 V597.5 L1048.75 543.75 Z" stroke-width="1.84"/>
<path d="M1024 536.9 H1049.4 L1108.75 595 V649.4" stroke-width="1.38" stroke-dasharray="3.5 1.8"/>
<path d="M1050.9 541.65 L1104.6 595.4 V649.4" stroke-width="1.38" stroke-dasharray="3.5 1.8"/>
<path d="M998.1 541.9 V575 H1032.5 L1071.25 610 V647.5 H1102.5" stroke-width="1.72"/>
<rect x="-6.2" y="-6.2" width="12.4" height="12.4" transform="translate(1042.5 603.1) rotate(45)" fill="#111" stroke="none"/>
<path d="M1047 597.5 L1051.5 592" stroke-width="1.38"/>
<text transform="translate(1092.2 558.1) rotate(44.4)" x="-22.3" y="3.25" font-size="9.45" textLength="44.6" lengthAdjust="spacingAndGlyphs" font-weight="bold">SNP LOOSE</text>
<text transform="translate(1082.8 563.1) rotate(45.7)" x="-18.35" y="3" font-size="8.72" textLength="36.7" lengthAdjust="spacingAndGlyphs" font-weight="bold">HIGH BAR</text>
<text x="977" y="668.4" font-size="13.66" textLength="49" lengthAdjust="spacingAndGlyphs">KITCHEN</text>
<circle cx="973" cy="657" r="0.9" fill="#111"/>
<rect x="1243.4" y="546" width="13.2" height="12" fill="#000" stroke="none"/>
<path d="M1256.6 552 L1260 552" stroke-width="1.38"/>
<text x="1199.4" y="661.25" font-size="14.9" textLength="35.6" lengthAdjust="spacingAndGlyphs">DINING</text>
<rect x="1177" y="666" width="35" height="11" rx="3" stroke-width="1.26" stroke-dasharray="3.5 1.8"/>
<rect x="1222.5" y="666" width="36.9" height="11" rx="3" stroke-width="1.26" stroke-dasharray="3.5 1.8"/>
<circle cx="1217.2" cy="671.6" r="7" stroke-width="1.26" stroke-dasharray="3.5 1.8"/>
<text x="1214.5" y="675" font-size="10.17" textLength="5.5" lengthAdjust="spacingAndGlyphs">F</text>
<text x="1188" y="687.5" font-size="7.99" textLength="60" lengthAdjust="spacingAndGlyphs" font-weight="bold">WIRE ONLY FAN</text>
<text x="1184.4" y="698" font-size="9.81" textLength="67.6" lengthAdjust="spacingAndGlyphs" font-weight="bold">DOUBLE SWITCHES</text>
</g>
</svg>
</body></html>
